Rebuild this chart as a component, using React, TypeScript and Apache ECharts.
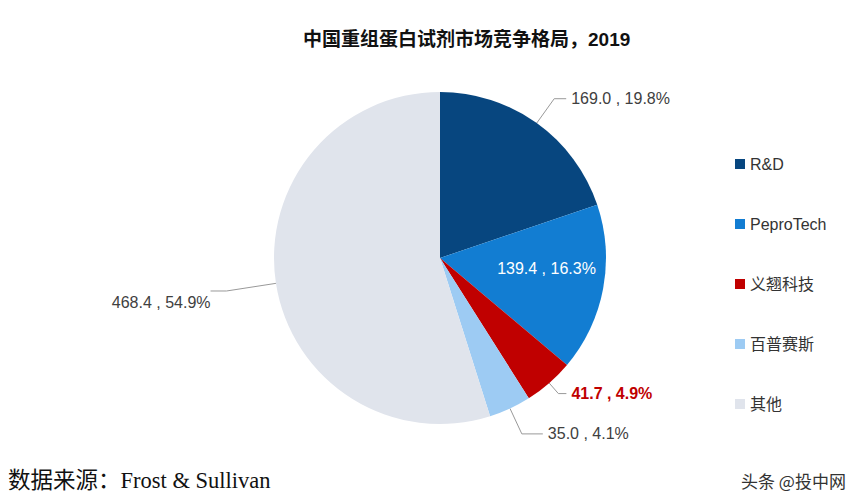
import React, { useEffect, useRef } from "react";
import * as echarts from "echarts";

const names = ["R&D", "PeproTech", "义翘科技", "百普赛斯", "其他"];
const values = [169.0, 139.4, 41.7, 35.0, 468.4];
const shares = ["19.8%", "16.3%", "4.9%", "4.1%", "54.9%"];
const colors = ["#07467F", "#127DD2", "#C00000", "#9DCBF3", "#E0E4EC"];
const titleText = "中国重组蛋白试剂市场竞争格局，2019";
const sourceText = "数据来源：Frost & Sullivan";
const watermark = "头条 @投中网";

export default function App() {
  const ref = useRef<HTMLDivElement>(null);
  useEffect(() => {
    if (!ref.current) return;
    const chart = echarts.init(ref.current, null, { renderer: "svg" });
    const labelCfg: any[] = [
      { label: { color: "#404040" }, labelLine: { length: 30, length2: 12 } },
      { label: { position: "inside", color: "#ffffff", offset: [22, -5] } },
      { label: { color: "#C00000", fontWeight: "bold" }, labelLine: { length: 14, length2: 8 } },
      { label: { color: "#404040" }, labelLine: { length: 28, length2: 21 } },
      { label: { color: "#404040" }, labelLine: { length: 50, length2: 16 } },
    ];
    const data = names.map((n, i) => ({
      name: n,
      value: values[i],
      itemStyle: { color: colors[i] },
      ...labelCfg[i],
      label: {
        formatter: () => `${values[i].toFixed(1)} , ${shares[i]}`,
        ...labelCfg[i].label,
      },
    }));
    chart.setOption({
      animation: false,
      backgroundColor: "#ffffff",
      title: {
        text: titleText,
        left: 298,
        top: 25,
        textStyle: { fontSize: 19, fontWeight: "bold", color: "#111", fontFamily: "Liberation Sans, Noto Sans CJK SC" },
      },
      legend: {
        orient: "vertical",
        left: 730,
        top: 151,
        icon: "rect",
        itemWidth: 10,
        itemHeight: 10,
        itemGap: 44,
        data: names,
        textStyle: { fontSize: 16, color: "#333", fontFamily: "Liberation Sans, Noto Sans CJK SC" },
      },
      series: [
        {
          type: "pie",
          center: [440, 258],
          radius: 166,
          startAngle: 90,
          clockwise: true,
          avoidLabelOverlap: false,
          label: {
            show: true,
            position: "outside",
            fontSize: 16,
            fontFamily: "Liberation Sans, Noto Sans CJK SC",
          },
          labelLine: { show: true, lineStyle: { color: "#999", width: 1 } },
          labelLayout: (p: any) => (p.dataIndex === 4 ? { dx: 5, dy: 12 } : {}),
          itemStyle: { borderWidth: 0 },
          emphasis: { disabled: true },
          data,
        },
      ],
      graphic: [
        {
          type: "text",
          left: 8,
          top: 469,
          style: { text: sourceText, fontSize: 22.5, fill: "#111", fontFamily: "'Liberation Serif', 'Noto Sans CJK SC'" },
        },
        {
          type: "text",
          left: 741,
          top: 472,
          style: { text: watermark, fontSize: 17, fill: "#333", fontFamily: "'Noto Sans CJK SC'" },
        },
      ],
    });
    return () => chart.dispose();
  }, []);
  return <div ref={ref} style={{ position: "fixed", left: 0, top: 0, width: 865, height: 504 }} />;
}
